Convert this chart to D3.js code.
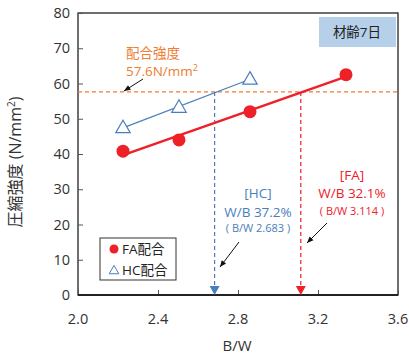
<html>
<head>
<meta charset="utf-8">
<script src="https://cdn.jsdelivr.net/npm/d3@7"></script>
<style>
  body { margin: 0; background: #fff; }
  text { font-family: "Open Sans", "Noto Sans CJK JP", sans-serif; }
</style>
</head>
<body>
<div id="chart"></div>
<script>
// data
var faBW = [2.225, 2.505, 2.86, 3.34];
var faStrength = [40.8, 44.0, 52.0, 62.5];
var hcBW = [2.225, 2.505, 2.86];
var hcStrength = [47.5, 53.3, 61.3];
var targetStrength = 57.6;
var hcCut = 2.683, faCut = 3.114;
var xTicks = [2.0, 2.4, 2.8, 3.2, 3.6];
var yTicks = [0, 10, 20, 30, 40, 50, 60, 70, 80];

var W = 409, H = 360;
var pL = 78, pT = 13, pR = 398, pB = 295;
var red = "#ee2028", blue = "#4a7ebb", orange = "#ed7d31";

var svg = d3.select("#chart").append("svg").attr("width", W).attr("height", H);

var x = d3.scaleLinear().domain([2.0, 3.6]).range([pL, pR]);
var y = d3.scaleLinear().domain([0, 80]).range([pB, pT]);

// least squares fit for trend lines
function fit(xs, ys) {
  var mx = d3.mean(xs), my = d3.mean(ys), sxx = 0, sxy = 0;
  xs.forEach(function (v, i) { sxx += (v - mx) * (v - mx); sxy += (v - mx) * (ys[i] - my); });
  var b = sxy / sxx;
  return function (v) { return my + b * (v - mx); };
}

// frame
svg.append("rect").attr("x", pL).attr("y", pT)
  .attr("width", pR - pL).attr("height", pB - pT)
  .attr("fill", "none").attr("stroke", "#222").attr("stroke-width", 1.3);

// axes with inward ticks
var yAxis = svg.append("g").attr("transform", "translate(" + pL + ",0)")
  .call(d3.axisRight(y).tickValues(yTicks).tickSize(5).tickFormat(""));
var xAxis = svg.append("g").attr("transform", "translate(0," + pB + ")")
  .call(d3.axisTop(x).tickValues(xTicks).tickSize(5).tickFormat(""));
[yAxis, xAxis].forEach(function (g) {
  g.select(".domain").remove();
  g.selectAll("line").attr("stroke", "#555");
});
svg.append("line").attr("x1", pL).attr("x2", pR).attr("y1", pB).attr("y2", pB)
  .attr("stroke", "#222").attr("stroke-width", 2);

svg.selectAll(".ylab").data(yTicks).enter().append("text")
  .attr("x", 70).attr("y", function (d) { return y(d) + 5; })
  .attr("text-anchor", "end").attr("font-size", 14.5).attr("fill", "#333")
  .text(function (d) { return d; });
svg.selectAll(".xlab").data(xTicks).enter().append("text")
  .attr("x", function (d) { return x(d); }).attr("y", 324)
  .attr("text-anchor", "middle").attr("font-size", 14.5).attr("fill", "#333")
  .text(function (d) { return d.toFixed(1); });

svg.append("text").attr("x", 237).attr("y", 351).attr("text-anchor", "middle")
  .attr("font-size", 15).attr("fill", "#333").text("B/W");
svg.append("text").attr("transform", "translate(21,162) rotate(-90)")
  .attr("text-anchor", "middle").attr("font-size", 16).attr("fill", "#333")
  .html("圧縮強度 (N/mm<tspan dy='-6' font-size='10'>2</tspan><tspan dy='6'>)</tspan>");

// target strength line
svg.append("line").attr("x1", pL).attr("x2", pR)
  .attr("y1", y(targetStrength)).attr("y2", y(targetStrength))
  .attr("stroke", orange).attr("stroke-width", 1.2).attr("stroke-dasharray", "4,3");

// vertical cut lines with arrowheads
[[hcCut, blue], [faCut, red]].forEach(function (c) {
  var cx = x(c[0]);
  svg.append("line").attr("x1", cx).attr("x2", cx)
    .attr("y1", y(targetStrength)).attr("y2", pB - 8)
    .attr("stroke", c[1]).attr("stroke-width", 1.2).attr("stroke-dasharray", "4,3");
  svg.append("path")
    .attr("d", "M" + (cx - 5) + "," + (pB - 9) + "L" + (cx + 5) + "," + (pB - 9) + "L" + cx + "," + pB + "Z")
    .attr("fill", c[1]);
});

// trend lines
var faFit = fit(faBW, faStrength), hcFit = fit(hcBW, hcStrength);
var line = d3.line().x(function (d) { return x(d[0]); }).y(function (d) { return y(d[1]); });
svg.append("path").datum([[faBW[0], faFit(faBW[0])], [faBW[3], faFit(faBW[3])]])
  .attr("d", line).attr("stroke", red).attr("stroke-width", 2.5).attr("fill", "none");
svg.append("path").datum([[hcBW[0], hcFit(hcBW[0])], [hcBW[2], hcFit(hcBW[2])]])
  .attr("d", line).attr("stroke", blue).attr("stroke-width", 1.2).attr("fill", "none");

// markers
svg.selectAll(".fa").data(faBW).enter().append("circle")
  .attr("cx", function (d) { return x(d); })
  .attr("cy", function (d, i) { return y(faStrength[i]); })
  .attr("r", 6.5).attr("fill", red);
var tri = d3.symbol().type(d3.symbolTriangle).size(90);
svg.selectAll(".hc").data(hcBW).enter().append("path")
  .attr("transform", function (d, i) { return "translate(" + x(d) + "," + (y(hcStrength[i]) + 1) + ")"; })
  .attr("d", tri).attr("fill", "#fff").attr("stroke", blue).attr("stroke-width", 1.2);

// age box
svg.append("rect").attr("x", 319).attr("y", 17).attr("width", 77).attr("height", 30).attr("fill", "#b7d0ea");
svg.append("text").attr("x", 357).attr("y", 37).attr("text-anchor", "middle")
  .attr("font-size", 13.5).attr("fill", "#222").text("材齢7日");

// annotations
function arrow(x1, y1, x2, y2) {
  svg.append("line").attr("x1", x1).attr("y1", y1).attr("x2", x2).attr("y2", y2)
    .attr("stroke", "#111").attr("stroke-width", 1);
  var a = Math.atan2(y2 - y1, x2 - x1), s = 7;
  var p1 = [x2 - s * Math.cos(a - 0.4), y2 - s * Math.sin(a - 0.4)];
  var p2 = [x2 - s * Math.cos(a + 0.4), y2 - s * Math.sin(a + 0.4)];
  svg.append("path").attr("d", "M" + x2 + "," + y2 + "L" + p1 + "L" + p2 + "Z").attr("fill", "#111");
}

svg.append("text").attr("x", 153).attr("y", 58).attr("text-anchor", "middle")
  .attr("font-size", 13.5).attr("fill", orange).text("配合強度");
svg.append("text").attr("x", 162).attr("y", 76).attr("text-anchor", "middle")
  .attr("font-size", 13.5).attr("fill", orange)
  .html("57.6N/mm<tspan dy='-5' font-size='9'>2</tspan>");
arrow(143, 79, 124, 91);

svg.append("text").attr("x", 258).attr("y", 198).attr("text-anchor", "middle")
  .attr("font-size", 13.5).attr("fill", blue).text("[HC]");
svg.append("text").attr("x", 258).attr("y", 217).attr("text-anchor", "middle")
  .attr("font-size", 13.5).attr("fill", blue).text("W/B 37.2%");
svg.append("text").attr("x", 258).attr("y", 232).attr("text-anchor", "middle")
  .attr("font-size", 11).attr("fill", blue).text("( B/W 2.683 )");
arrow(239, 242, 220, 267);

svg.append("text").attr("x", 352).attr("y", 180).attr("text-anchor", "middle")
  .attr("font-size", 13.5).attr("fill", red).text("[FA]");
svg.append("text").attr("x", 352).attr("y", 198).attr("text-anchor", "middle")
  .attr("font-size", 13.5).attr("fill", red).text("W/B 32.1%");
svg.append("text").attr("x", 352).attr("y", 215).attr("text-anchor", "middle")
  .attr("font-size", 11).attr("fill", red).text("( B/W 3.114 )");
arrow(327, 223, 307, 243);

// legend
svg.append("rect").attr("x", 100).attr("y", 238).attr("width", 76).attr("height", 42)
  .attr("fill", "#fff").attr("stroke", "#333").attr("stroke-width", 1);
svg.append("circle").attr("cx", 114).attr("cy", 249).attr("r", 4.5).attr("fill", red);
svg.append("path").attr("transform", "translate(114,271)")
  .attr("d", d3.symbol().type(d3.symbolTriangle).size(40))
  .attr("fill", "#fff").attr("stroke", blue).attr("stroke-width", 1);
svg.append("text").attr("x", 122).attr("y", 254).attr("font-size", 13.5).attr("fill", "#222").text("FA配合");
svg.append("text").attr("x", 122).attr("y", 275).attr("font-size", 13.5).attr("fill", "#222").text("HC配合");
</script>
</body>
</html>
